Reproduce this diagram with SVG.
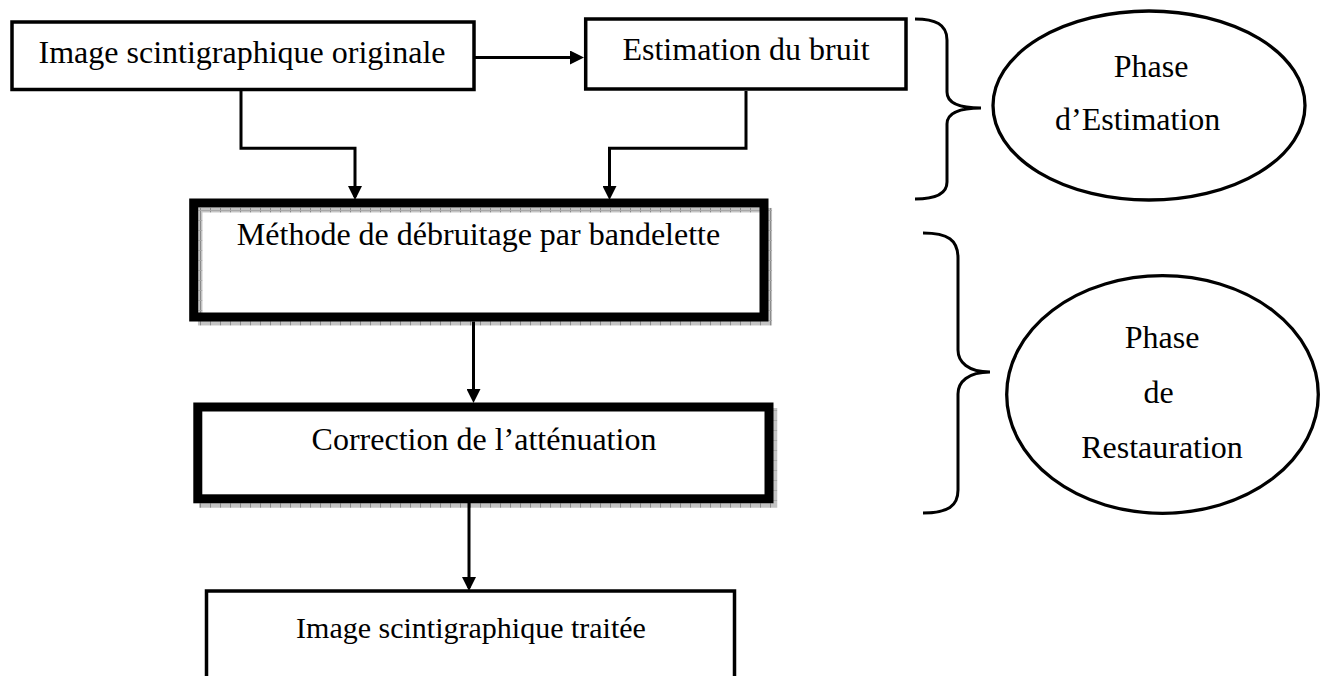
<svg xmlns="http://www.w3.org/2000/svg" width="1326" height="676" viewBox="0 0 1326 676">
<defs>
<style>
.t{font-family:"Liberation Serif","Times New Roman",serif;font-size:32px;fill:#000}
.box{fill:#fff;stroke:#000;stroke-width:3.5}
.bold{fill:none;stroke:#000;stroke-width:9}
.shadow{fill:none;stroke:url(#hatch);stroke-width:4.5}
.ell{fill:#fff;stroke:#000;stroke-width:3.3}
.brace{fill:none;stroke:#000;stroke-width:3}
.conn{fill:none;stroke:#000;stroke-width:3;marker-end:url(#arr)}
</style>
<pattern id="hatch" width="10" height="10" patternUnits="userSpaceOnUse">
<rect width="10" height="10" fill="#c4c4c4"/>
<rect width="1" height="10" fill="#8a8a8a"/>
<rect width="10" height="1" y="0" fill="#a8a8a8"/>
</pattern>
<marker id="arr" viewBox="0 0 14 14" refX="11" refY="7" markerWidth="14" markerHeight="14" markerUnits="userSpaceOnUse" orient="auto">
<path d="M0,0 L14,7 L0,14 z" fill="#000"/>
</marker>
</defs>
<rect width="1326" height="676" fill="#fff"/>

<g id="node-original">
<rect class="box" x="12" y="22" width="462" height="67.5"/>
<text class="t" x="242" y="63" text-anchor="middle">Image scintigraphique originale</text>
</g>

<g id="node-bruit">
<rect class="box" x="585.7" y="19" width="320.3" height="70"/>
<text class="t" x="746" y="60" text-anchor="middle">Estimation du bruit</text>
</g>

<g id="node-debruitage">
<rect x="193.7" y="203" width="570.3" height="114" fill="#fff"/>
<rect class="shadow" x="200.2" y="210.2" width="569.6" height="113"/>
<rect class="bold" x="193.7" y="203" width="570.3" height="114"/>
<text class="t" x="478.5" y="245" text-anchor="middle">Méthode de débruitage par bandelette</text>
</g>

<g id="node-correction">
<rect x="197.8" y="407" width="571.2" height="91.8" fill="#fff"/>
<path d="M775,408 V505.5 H199" fill="none" stroke="url(#hatch)" stroke-width="4.5"/>
<rect class="bold" x="197.8" y="407" width="571.2" height="91.8"/>
<text class="t" x="484" y="450" text-anchor="middle">Correction de l’atténuation</text>
</g>

<g id="node-traitee">
<rect class="box" x="206.5" y="591" width="528" height="120"/>
<text class="t" x="471" y="638" text-anchor="middle" style="font-size:30px">Image scintigraphique traitée</text>
</g>

<g id="node-phase-estimation">
<ellipse class="ell" cx="1149" cy="105.5" rx="156" ry="94.5"/>
<text class="t" x="1151" y="77" text-anchor="middle">Phase</text>
<text class="t" x="1055" y="130">d’Estimation</text>
</g>

<g id="node-phase-restauration">
<ellipse class="ell" cx="1162.5" cy="394.5" rx="155.8" ry="118.8"/>
<text class="t" x="1162" y="348" text-anchor="middle">Phase</text>
<text class="t" x="1158.5" y="403" text-anchor="middle">de</text>
<text class="t" x="1162" y="458" text-anchor="middle">Restauration</text>
</g>

<g id="brace-estimation">
<path class="brace" d="M915,19 C935,19 947,24 947,40 L947,92 C947,102 957,108 981,108 C957,108 947,114 947,124 L947,182 C947,194 935,199 915,199"/>
</g>

<g id="brace-restauration">
<path class="brace" d="M923,233 C948,233 958,240 958,258 L958,350 C958,362 968,372 990,372 C968,372 958,382 958,394 L958,490 C958,506 948,513 923,513"/>
</g>

<g id="connectors">
<path class="conn" d="M474,57.5 H581"/>
<path class="conn" d="M241,91 V148.3 H355 V197"/>
<path class="conn" d="M746,91 V148.3 H609.5 V197"/>
<path class="conn" d="M473.5,321.5 V400"/>
<path class="conn" d="M469,503 V588"/>
</g>
</svg>
